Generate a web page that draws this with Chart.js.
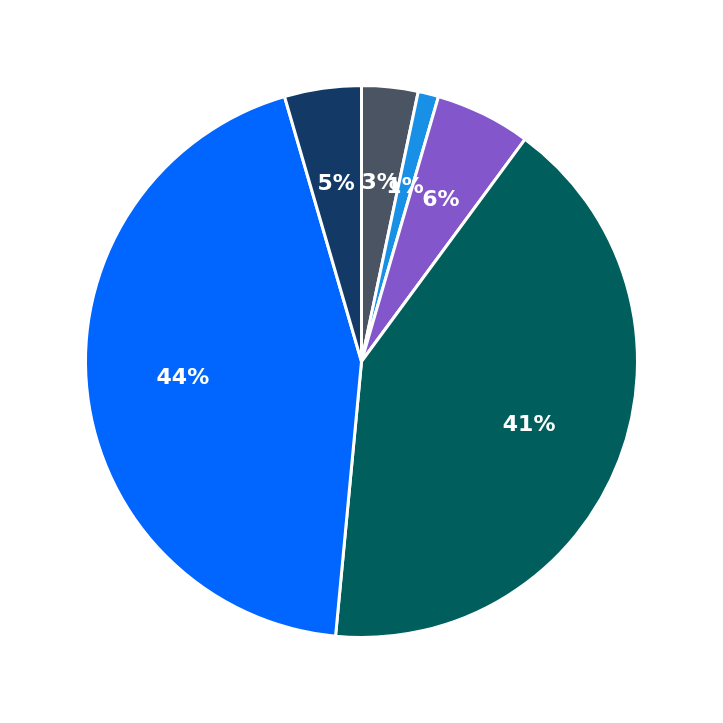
<!DOCTYPE html>
<html>
<head>
<script src="https://cdn.jsdelivr.net/npm/chart.js@4"></script>
<style>body{margin:0;background:#fff}#wrap{width:723px;height:723px}</style>
</head>
<body>
<div id="wrap"><canvas id="myChart"></canvas></div>
<script>
const labels = ["A", "B", "C", "D", "E", "F"];
const values = [3.3, 1.2, 5.6, 41.4, 44.0, 4.5];
const colors = ["#4a5462", "#1790e6", "#8456cc", "#005e5c", "#0066ff", "#133a66"];

const pieLabels = {
  id: "pieLabels",
  afterDatasetsDraw(chart) {
    const ctx = chart.ctx;
    const total = values.reduce((a, b) => a + b, 0);
    ctx.save();
    ctx.fillStyle = "#fff";
    ctx.font = "bold 22px 'DejaVu Sans'";
    ctx.textAlign = "center";
    ctx.textBaseline = "middle";
    chart.getDatasetMeta(0).data.forEach((arc, i) => {
      const mid = (arc.startAngle + arc.endAngle) / 2;
      const r = arc.outerRadius * 0.65;
      ctx.fillText(Math.round(values[i] / total * 100) + "%", arc.x + Math.cos(mid) * r, arc.y + Math.sin(mid) * r);
    });
    ctx.restore();
  }
};

new Chart("myChart", {
  type: "pie",
  data: {
    labels: labels,
    datasets: [{ data: values, backgroundColor: colors, borderColor: "#fff", borderWidth: 3 }]
  },
  options: {
    responsive: true,
    maintainAspectRatio: false,
    animation: false,
    layout: { padding: 84 },
    plugins: { legend: { display: false }, tooltip: { enabled: false } }
  },
  plugins: [pieLabels]
});
</script>
</body>
</html>
